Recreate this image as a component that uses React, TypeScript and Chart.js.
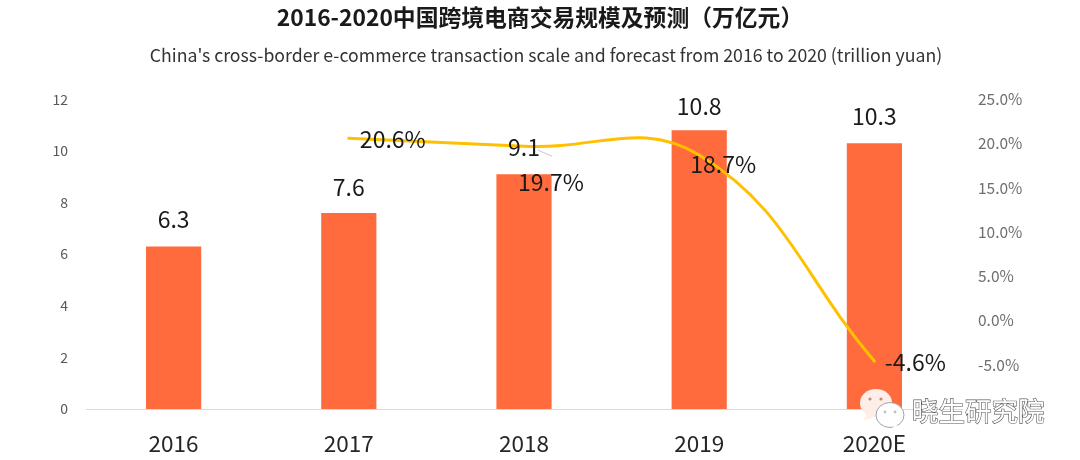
import React, { useEffect, useRef } from "react";
import { Chart, registerables } from "chart.js";

Chart.register(...registerables);

const categories = ["2016", "2017", "2018", "2019", "2020E"];
const scaleValues = [6.3, 7.6, 9.1, 10.8, 10.3];
const growthValues = [null, 20.6, 19.7, 18.7, -4.6];
const titleText = "2016-2020中国跨境电商交易规模及预测（万亿元）";
const subtitleText = "China's cross-border e-commerce transaction scale and forecast from 2016 to 2020 (trillion yuan)";
const watermarkText = "晓生研究院";

const CJK = '"Noto Sans CJK SC", "Noto Sans", sans-serif';
const barLabelGap = [27, 26, 27, 24, 27];
const lineLabelOffset: [number, number][] = [[0, 0], [44, 1], [27, 36], [24, 9], [41, 1]];

const labelPlugin = {
  id: "labels",
  afterDatasetsDraw(chart: any) {
    const ctx = chart.ctx;
    ctx.save();
    ctx.font = `17.7px ${CJK}`;
    ctx.fillStyle = "#333333";
    ctx.textAlign = "center";
    ctx.textBaseline = "middle";
    ctx.fillText(subtitleText, 546, 55);
    ctx.font = `23px ${CJK}`;
    ctx.fillStyle = "#1a1a1a";
    const barMeta = chart.getDatasetMeta(0);
    barMeta.data.forEach((bar: any, i: number) => {
      ctx.fillText(scaleValues[i].toFixed(1), bar.x, bar.y - barLabelGap[i]);
    });
    const lineMeta = chart.getDatasetMeta(1);
    lineMeta.data.forEach((pt: any, i: number) => {
      const v = growthValues[i];
      if (v == null) return;
      ctx.fillText(v.toFixed(1) + "%", pt.x + lineLabelOffset[i][0], pt.y + lineLabelOffset[i][1]);
    });
    // leader line of the 9.1 label
    const b = barMeta.data[2];
    ctx.strokeStyle = "#c8c8c8";
    ctx.lineWidth = 1;
    ctx.beginPath();
    ctx.moveTo(b.x + 14, b.y - 24);
    ctx.lineTo(b.x + 28, b.y - 18);
    ctx.stroke();
    ctx.restore();
  },
  afterDraw(chart: any) {
    const ctx = chart.ctx;
    ctx.save();
    // watermark icon
    const bubble = (x: number, y: number, r: number, fill: string, tx: number, ty: number) => {
      ctx.fillStyle = fill;
      ctx.beginPath();
      ctx.ellipse(x, y, r, r * 0.88, 0, 0, Math.PI * 2);
      ctx.fill();
      ctx.beginPath();
      ctx.moveTo(tx, ty);
      ctx.lineTo(tx + 9, ty - 2);
      ctx.lineTo(tx + 3, ty - 8);
      ctx.closePath();
      ctx.fill();
    };
    bubble(876, 403, 16, "#fdeee8", 864, 420);
    ctx.fillStyle = "#c9897a";
    [[870, 399], [881, 399]].forEach(([x, y]) => {
      ctx.beginPath();
      ctx.arc(x, y, 1.6, 0, Math.PI * 2);
      ctx.fill();
    });
    ctx.fillStyle = "#ffffff";
    ctx.strokeStyle = "#9aa4aa";
    ctx.lineWidth = 1;
    ctx.beginPath();
    ctx.ellipse(890, 415, 14, 12.5, 0, 0, Math.PI * 2);
    ctx.fill();
    ctx.stroke();
    ctx.beginPath();
    ctx.moveTo(897, 425);
    ctx.lineTo(900, 430);
    ctx.lineTo(892, 427);
    ctx.closePath();
    ctx.fill();
    ctx.fillStyle = "#b9c2c8";
    [[885, 412], [895, 412]].forEach(([x, y]) => {
      ctx.beginPath();
      ctx.arc(x, y, 1.4, 0, Math.PI * 2);
      ctx.fill();
    });
    // watermark text
    ctx.font = `26.5px ${CJK}`;
    ctx.textAlign = "left";
    ctx.textBaseline = "middle";
    ctx.lineWidth = 1.2;
    ctx.strokeStyle = "#555555";
    ctx.fillStyle = "#ffffff";
    ctx.strokeText(watermarkText, 912, 411);
    ctx.fillText(watermarkText, 912, 411);
    ctx.restore();
  },
};

export default function App() {
  const ref = useRef<HTMLCanvasElement>(null);
  useEffect(() => {
    document.body.style.margin = "0";
    const chart = new Chart(ref.current as HTMLCanvasElement, {
      type: "bar",
      data: {
        labels: categories,
        datasets: [
          {
            type: "bar",
            data: scaleValues,
            backgroundColor: "#FF6B3D",
            barPercentage: 0.315,
            categoryPercentage: 1,
            yAxisID: "y",
            order: 2,
          },
          {
            type: "line",
            data: growthValues,
            borderColor: "#FFC000",
            borderWidth: 3,
            pointRadius: 0,
            tension: 0.42,
            borderCapStyle: "round",
            yAxisID: "y1",
            order: 1,
          },
        ],
      } as any,
      options: {
        responsive: false,
        animation: false,
        layout: { padding: { top: 0, left: 0, right: 0, bottom: 0 } },
        plugins: {
          legend: { display: false },
          tooltip: { enabled: false },
          title: {
            display: true,
            text: titleText,
            color: "#1a1a1a",
            font: { family: CJK, size: 22.8, weight: "bold" },
            padding: { top: 4, bottom: 68 },
          },
        },
        scales: {
          x: {
            grid: { display: false },
            border: { color: "#d9d9d9" },
            ticks: { color: "#262626", font: { family: CJK, size: 22.5 }, padding: 13 },
            afterFit(s: any) { s.height = 51; },
          },
          y: {
            min: 0,
            max: 12,
            position: "left",
            grid: { display: false },
            border: { display: false },
            ticks: { stepSize: 2, color: "#595959", font: { family: CJK, size: 14 }, padding: 10 },
            afterFit(s: any) { s.width = 86; },
          },
          y1: {
            min: -10,
            max: 25,
            position: "right",
            grid: { display: false },
            border: { display: false },
            ticks: {
              stepSize: 5,
              color: "#6e6e6e",
              font: { family: CJK, size: 15.5 },
              padding: 8,
              callback: (v: any) => (v < -5 ? null : Number(v).toFixed(1) + "%"),
            },
            afterFit(s: any) { s.width = 118; },
          },
        },
      } as any,
      plugins: [labelPlugin],
    });
    return () => chart.destroy();
  }, []);
  return <canvas ref={ref} width={1080} height={460} style={{ display: "block" }} />;
}
